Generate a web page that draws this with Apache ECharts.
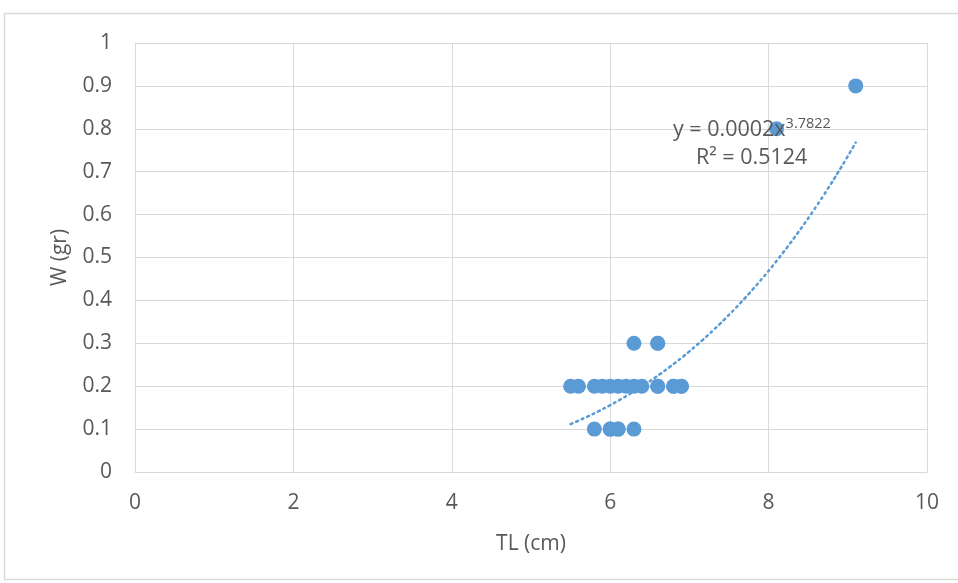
<!DOCTYPE html>
<html>
<head>
<meta charset="utf-8">
<script src="https://cdn.jsdelivr.net/npm/echarts@6/dist/echarts.min.js"></script>
<style>html,body{margin:0;padding:0;background:#fff}#c{width:958px;height:583px}</style>
</head>
<body>
<div id="c"></div>
<script>
// TL (cm) and W (gr) of each fish (overlapping points included)
const tlValues = [5.5, 5.6, 5.8, 5.9, 6.0, 6.1, 6.2, 6.3, 6.4, 6.6, 6.8, 6.9, 6.3, 6.6, 5.8, 6.0, 6.1, 6.3, 8.1, 9.1, 6.0, 6.1, 6.6, 6.8, 6.9, 6.6];
const wValues  = [0.2, 0.2, 0.2, 0.2, 0.2, 0.2, 0.2, 0.2, 0.2, 0.2, 0.2, 0.2, 0.3, 0.3, 0.1, 0.1, 0.1, 0.1, 0.8, 0.9, 0.1, 0.1, 0.2, 0.2, 0.2, 0.3];
const xTicks = [0, 2, 4, 6, 8, 10];
const yTicks = [0, 0.1, 0.2, 0.3, 0.4, 0.5, 0.6, 0.7, 0.8, 0.9, 1];
const trendA = 0.0002, trendB = 3.7822, trendR2 = 0.5124;

// power-law trendline fitted from the data (least squares on logs)
let n = tlValues.length, sx = 0, sy = 0, sxx = 0, sxy = 0;
for (let i = 0; i < n; i++) {
  const lx = Math.log(tlValues[i]), ly = Math.log(wValues[i]);
  sx += lx; sy += ly; sxx += lx * lx; sxy += lx * ly;
}
const b = (n * sxy - sx * sy) / (n * sxx - sx * sx);
const a = Math.exp((sy - b * sx) / n);
const xmin = Math.min(...tlValues), xmax = Math.max(...tlValues);
const trend = [];
for (let k = 0; k <= 80; k++) {
  const x = xmin + (xmax - xmin) * k / 80;
  trend.push([x, a * Math.pow(x, b)]);
}
const pts = tlValues.map((v, i) => [v, wValues[i]]);

const font = '"Open Sans",sans-serif';
const chart = echarts.init(document.getElementById('c'));
chart.setOption({
  animation: false,
  grid: {left: 135, right: 31, top: 43, bottom: 111},
  graphic: [
    {type: 'rect', shape: {x: 4.5, y: 13.5, width: 970, height: 566}, style: {fill: 'none', stroke: '#D9D9D9', lineWidth: 1.5}, z: -1},
    {type: 'text', left: 673, top: 116, style: {
      rich: {n: {fontSize: 21.5, fill: '#595959', fontFamily: font}, s: {fontSize: 14.5, fill: '#595959', fontFamily: font, verticalAlign: 'top', padding: [0,0,12,0]}},
      text: '{n|y = ' + trendA.toFixed(4) + 'x}{s|' + trendB.toFixed(4) + '}'
    }, z: 10},
    {type: 'text', left: 696, top: 147, style: {text: 'R² = ' + trendR2.toFixed(4), fontSize: 21.5, fill: '#595959', fontFamily: font}, z: 10}
  ],
  xAxis: {
    type: 'value', min: xTicks[0], max: xTicks[xTicks.length - 1], interval: xTicks[1] - xTicks[0],
    name: 'TL (cm)', nameLocation: 'middle', nameGap: 62,
    nameTextStyle: {fontSize: 21, color: '#595959', fontFamily: font},
    axisLine: {show: true, lineStyle: {color: '#D9D9D9'}},
    axisTick: {show: false},
    axisLabel: {fontSize: 21, color: '#595959', margin: 21, fontFamily: font},
    splitLine: {show: true, lineStyle: {color: '#D9D9D9'}}
  },
  yAxis: {
    type: 'value', min: yTicks[0], max: yTicks[yTicks.length - 1], interval: 0.1,
    name: 'W (gr)', nameLocation: 'middle', nameGap: 64, nameRotate: 90,
    nameTextStyle: {fontSize: 21, color: '#595959', fontFamily: font},
    axisLine: {show: true, lineStyle: {color: '#D9D9D9'}},
    axisTick: {show: false},
    axisLabel: {fontSize: 21, color: '#595959', margin: 23, fontFamily: font},
    splitLine: {show: true, lineStyle: {color: '#D9D9D9'}}
  },
  series: [
    {type: 'scatter', data: pts, symbolSize: 15, itemStyle: {color: '#5B9BD5', opacity: 1}, z: 3},
    {type: 'line', data: trend, showSymbol: false, smooth: true, lineStyle: {color: '#5B9BD5', width: 2.5, type: [2, 4], cap: 'round'}, z: 4}
  ]
});
</script>
</body>
</html>
